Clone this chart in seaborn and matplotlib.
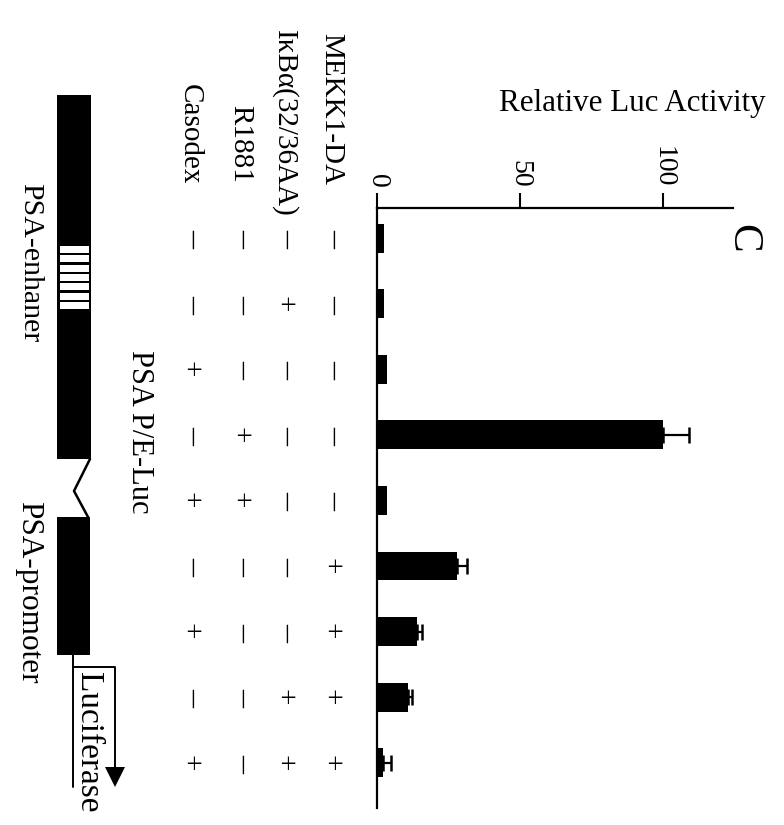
import numpy as np
import pandas as pd
import matplotlib
matplotlib.use("Agg")
import matplotlib.pyplot as plt
import matplotlib.patches as mpatches
from matplotlib.transforms import blended_transform_factory
import seaborn as sns

# ---------------- data ----------------
lanes = ["1", "2", "3", "4", "5", "6", "7", "8", "9"]
luc_activity = [2.5, 2.5, 3.5, 100, 3.5, 28, 14, 11, 2]
luc_error = [0, 0, 0, 9, 0, 3.5, 1.8, 1.4, 2.8]
row_labels = ["MEKK1-DA", "IκBα(32/36AA)", "R1881", "Casodex"]
mekk1 = ["-", "-", "-", "-", "-", "+", "+", "+", "+"]
ikba = ["-", "+", "-", "-", "-", "-", "-", "+", "+"]
r1881 = ["-", "-", "-", "+", "+", "-", "-", "-", "-"]
casodex = ["-", "-", "+", "-", "+", "-", "+", "-", "+"]
x_ticks = [0, 50, 100]
x_title = "Relative Luc Activity"
panel = "C"
construct = "PSA P/E-Luc"

sns.set_style("ticks")
plt.rcParams["font.family"] = ["Liberation Serif", "DejaVu Serif"]
plt.rcParams["text.color"] = "black"
plt.rcParams["xtick.color"] = "black"
plt.rcParams["ytick.color"] = "black"
plt.rcParams["axes.edgecolor"] = "black"

W, H = 784, 825
fig = plt.figure(figsize=(W / 100, H / 100), dpi=100)

def fx(px):
    return px / W

def fy(py):
    return 1 - py / H

# main axes: left spine at x=377, top spine at y=208, bottom at y=808
ax = fig.add_axes([fx(377), fy(808), fx(733) - fx(377), fy(208) - fy(808)])
df = pd.DataFrame({"lane": lanes, "value": luc_activity})
sns.barplot(data=df, x="value", y="lane", orient="h", color="black",
            width=0.44, ax=ax, edgecolor="black", linewidth=0, saturation=1)
pos = np.arange(len(lanes))
vals = np.array(luc_activity)
errs = np.array(luc_error)
m = errs > 0
ax.errorbar(vals[m], pos[m], xerr=[np.zeros(m.sum()), errs[m]], fmt="none",
            ecolor="black", elinewidth=1.6, capsize=5.5, capthick=1.8)

ax.set_xlim(0, 124.5)
ax.set_ylim(8.69, -0.46)
ax.xaxis.tick_top()
ax.set_xticks(x_ticks)
ax.set_xticklabels([str(t) for t in x_ticks], rotation=-90, fontsize=20,
                   color="black")
ax.tick_params(axis="x", direction="out", length=10.5, width=1.5, pad=4,
               colors="black")
ax.tick_params(axis="y", left=False, labelleft=False)
ax.set_xlabel("")
ax.set_ylabel("")
for s in ["right", "bottom"]:
    ax.spines[s].set_visible(False)
for s in ["top", "left"]:
    ax.spines[s].set_linewidth(1.6)
    ax.spines[s].set_color("black")
ax.patch.set_alpha(0)

# +/- table below lanes
tr = blended_transform_factory(fig.transFigure, ax.transData)
row_x = [331, 284, 240, 190]
label_end = [185, 217, 183, 185]
for rx, rows in zip(row_x, [mekk1, ikba, r1881, casodex]):
    for i, sgn in enumerate(rows):
        if sgn == "+":
            ax.text(fx(rx), pos[i], "+", transform=tr, rotation=-90,
                    ha="center", va="center", fontsize=21, color="black")
        else:
            ax.text(fx(rx + 3), pos[i], "\u2013", transform=tr, rotation=-90,
                    ha="center", va="center", fontsize=26, color="black")
for rx, ly, lab in zip(row_x, label_end, row_labels):
    fig.text(fx(rx), fy(ly), lab, rotation=-90, ha="center", va="bottom",
             fontsize=21, color="black")

# titles
fig.text(fx(632), fy(104), x_title, ha="center", va="center", fontsize=22.3,
         color="black")
fig.text(fx(743), fy(238), panel, rotation=-90, ha="center", va="center",
         fontsize=31, color="black")
fig.text(fx(140), fy(432), construct, rotation=-90, ha="center",
         va="center", fontsize=22, color="black")

# construct diagram in pixel coordinates
dax = fig.add_axes([0, 0, 1, 1], zorder=-1)
dax.set_xlim(0, W)
dax.set_ylim(H, 0)
dax.axis("off")
dax.add_patch(mpatches.Rectangle((57, 95), 34, 364, color="black", lw=0))
for k in range(7):
    y0 = 246 + k * 9.3
    dax.add_patch(mpatches.Rectangle((60.5, y0), 28.5, 7.2, color="white", lw=0))
dax.add_patch(mpatches.Rectangle((57, 517), 33, 138, color="black", lw=0))
dax.plot([90, 74, 88], [459, 491, 517], color="black", lw=1.8)
dax.plot([73, 73], [655, 787], color="black", lw=1.4)
dax.plot([73, 115, 115], [667, 667, 768], color="black", lw=1.4)
dax.add_patch(mpatches.Polygon([[105, 767], [125, 767], [115, 787]],
                               closed=True, color="black", lw=0))
fig.text(fx(30), fy(263), "PSA-enhaner", rotation=-90, ha="center",
         va="center", fontsize=21.5, color="black")
fig.text(fx(29), fy(592), "PSA-promoter", rotation=-90, ha="center",
         va="center", fontsize=22.5, color="black")
fig.text(fx(88), fy(672), "Luciferase", rotation=-90, ha="center",
         va="top", fontsize=24, color="black")

fig.savefig("out.png", dpi=100)
